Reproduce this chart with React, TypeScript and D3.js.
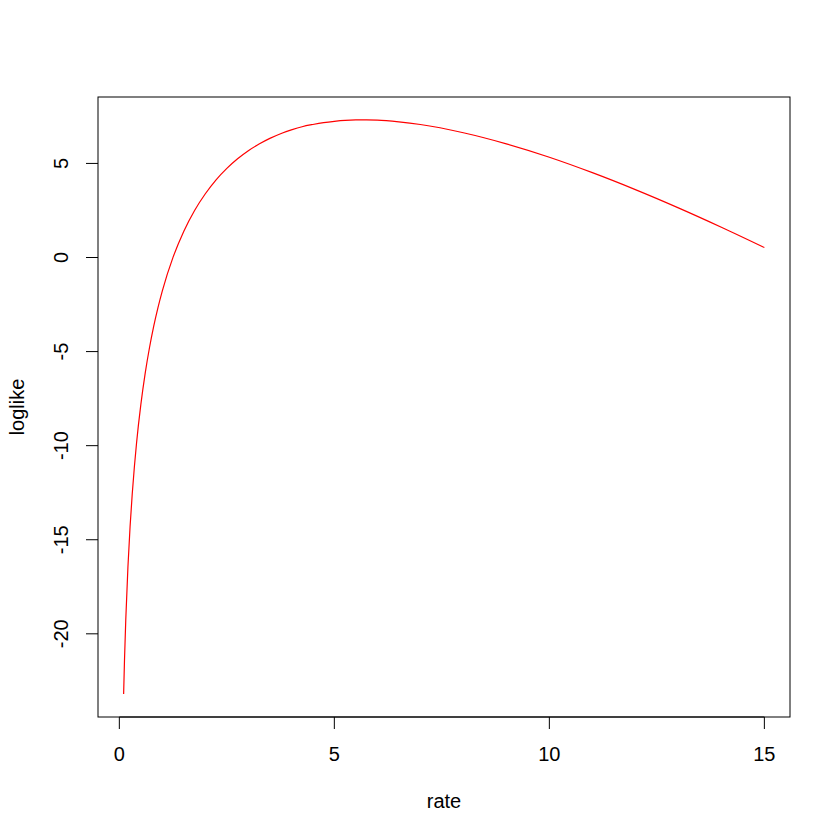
import React from "react";
import * as d3 from "d3";

const rate = [0.1, 0.12, 0.15, 0.2, 0.25, 0.3, 0.35, 0.4, 0.5, 0.6, 0.7, 0.8, 0.9, 1.0, 1.25, 1.5, 1.75, 2, 2.25, 2.5, 2.75, 3, 3.25, 3.5, 3.75, 4, 4.25, 4.5, 4.75, 5, 5.25, 5.5, 5.75, 6, 6.5, 7, 8, 9, 10, 11, 12, 13, 14, 15];
const loglike = [-23.2, -21.41, -19.24, -16.45, -14.3, -12.57, -11.12, -9.87, -7.82, -6.17, -4.81, -3.65, -2.65, -1.77, 0.02, 1.4, 2.5, 3.39, 4.13, 4.74, 5.25, 5.68, 6.03, 6.33, 6.58, 6.78, 6.95, 7.07, 7.17, 7.24, 7.29, 7.31, 7.31, 7.3, 7.21, 7.07, 6.63, 6.04, 5.33, 4.51, 3.61, 2.64, 1.61, 0.53];
const xTicks = [0, 5, 10, 15];
const yTicks = [-20, -15, -10, -5, 0, 5];

export default function App() {
  const W = 840, H = 840;
  const L = 98, R = 790, T = 97, B = 717;
  const xr = d3.extent(rate) as [number, number];
  const yr = d3.extent(loglike) as [number, number];
  const xe = (xr[1] - xr[0]) * 0.04;
  const ye = (yr[1] - yr[0]) * 0.04;
  const x = d3.scaleLinear().domain([xr[0] - xe, xr[1] + xe]).range([L, R]);
  const y = d3.scaleLinear().domain([yr[0] - ye, yr[1] + ye]).range([B, T]);
  const pts = rate.map((r, i) => [r, loglike[i]] as [number, number]);
  const line = d3.line<[number, number]>().x(d => x(d[0])).y(d => y(d[1])).curve(d3.curveMonotoneX);
  const font = "'Liberation Sans', Arial, Helvetica, sans-serif";
  const fs = 20;
  return (
    <svg width={W} height={H} style={{ position: "absolute", left: 0, top: 0, background: "#fff" }} fontFamily={font}>
      <rect x={0} y={0} width={W} height={H} fill="#fff" />
      <path d={line(pts) || ""} fill="none" stroke="#ff0000" strokeWidth={1.2} />
      <rect x={L} y={T} width={R - L} height={B - T} fill="none" stroke="#000" strokeWidth={1} />
      <line x1={x(xTicks[0])} x2={x(xTicks[xTicks.length - 1])} y1={B} y2={B} stroke="#000" />
      {xTicks.map(t => (
        <g key={"x" + t}>
          <line x1={x(t)} x2={x(t)} y1={B} y2={B + 12} stroke="#000" />
          <text x={x(t)} y={761} textAnchor="middle" fontSize={fs}>{t}</text>
        </g>
      ))}
      {yTicks.map(t => (
        <g key={"y" + t}>
          <line x1={L} x2={L - 12} y1={y(t)} y2={y(t)} stroke="#000" />
          <text transform={`translate(68,${y(t)}) rotate(-90)`} textAnchor="middle" fontSize={fs}>{t}</text>
        </g>
      ))}
      <text x={(L + R) / 2} y={808} textAnchor="middle" fontSize={fs}>rate</text>
      <text transform={`translate(24,${(T + B) / 2}) rotate(-90)`} textAnchor="middle" fontSize={fs}>loglike</text>
    </svg>
  );
}
